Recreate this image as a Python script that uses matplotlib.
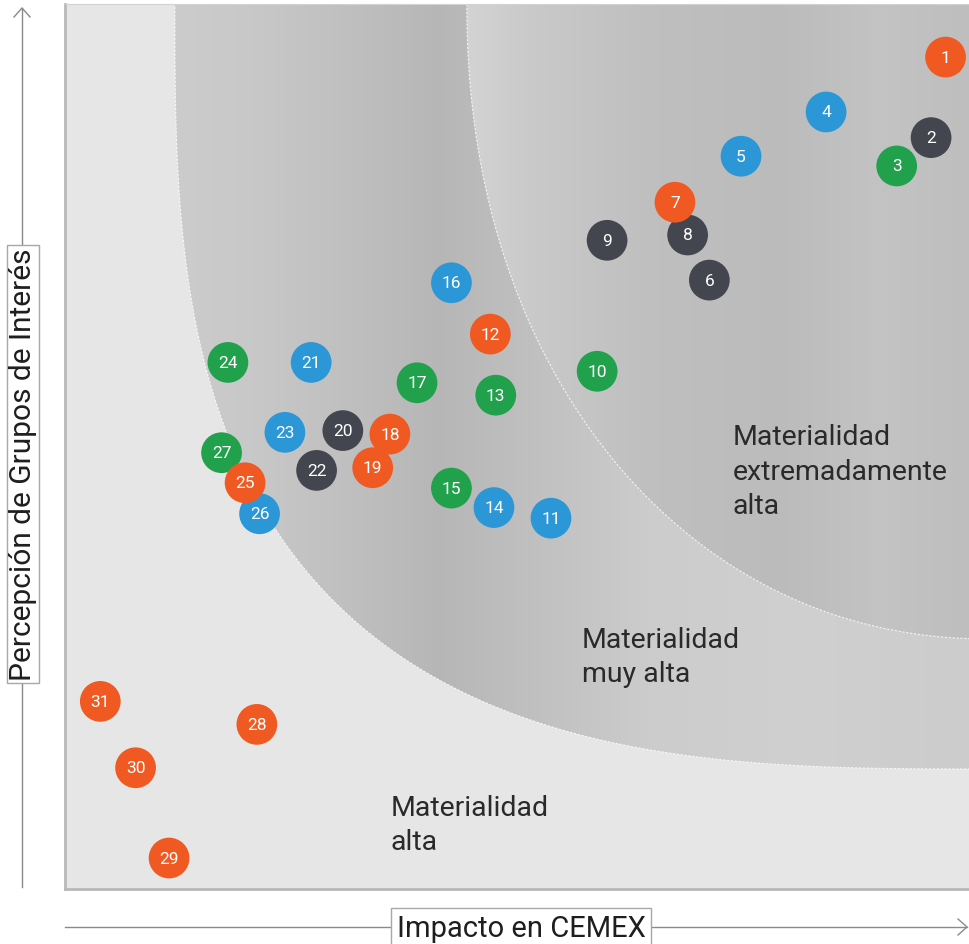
import numpy as np
import matplotlib
matplotlib.use('Agg')
import matplotlib.pyplot as plt
from matplotlib.path import Path
from matplotlib.patches import PathPatch

plt.rcParams['font.family'] = ['Roboto', 'DejaVu Sans']

# temas materiales: numero, impacto en CEMEX (x), percepcion de grupos de interes (y)
numeros = list(range(1, 32))
impacto = [97.3, 95.7, 91.9, 84.1, 74.7, 71.2, 67.4, 68.8, 59.9, 58.8,
           53.7, 47.0, 47.6, 47.4, 42.7, 42.7, 38.9, 35.9, 34.0, 30.7,
           27.2, 27.8, 24.3, 18.0, 19.9, 21.5, 17.3, 21.2, 11.5, 7.8, 3.9]
percepcion = [94.0, 84.9, 81.7, 87.8, 82.8, 68.8, 77.6, 73.9, 73.3, 58.5,
              41.9, 62.7, 55.8, 43.1, 45.3, 68.5, 57.2, 51.4, 47.6, 51.8,
              59.5, 47.3, 51.6, 59.5, 45.9, 42.4, 49.3, 18.6, 3.5, 13.7, 21.2]
grupo = ['naranja', 'gris', 'verde', 'azul', 'azul', 'gris', 'naranja', 'gris', 'gris', 'verde',
         'azul', 'naranja', 'verde', 'azul', 'verde', 'azul', 'verde', 'naranja', 'naranja', 'gris',
         'azul', 'gris', 'azul', 'verde', 'naranja', 'azul', 'verde', 'naranja', 'naranja', 'naranja', 'naranja']
# orden de dibujo (los que se solapan quedan encima)
orden = [1, 2, 3, 4, 5, 6, 8, 7, 9, 10, 11, 12, 13, 14, 15, 16, 17, 18, 19, 20,
         21, 22, 23, 24, 26, 27, 25, 28, 29, 30, 31]

colores = {'naranja': '#F05A22', 'azul': '#2C97D6', 'gris': '#43464E', 'verde': '#21A14C'}

zonas = ['Materialidad\nextremadamente\nalta', 'Materialidad\nmuy alta', 'Materialidad\nalta']
zonas_x = [73.8, 57.1, 36.0]
zonas_y = [47.2, 26.3, 7.3]


def cuadrante(cx, cy, a, b, n, m=400):
    t = np.linspace(0, np.pi / 2, m)
    xs = cx - a * np.cos(t) ** (2 / n)
    ys = cy - b * np.sin(t) ** (2 / n)
    verts = np.vstack([np.column_stack([xs, ys]), [[cx + 5, ys[-1]], [cx + 5, cy + 5], [xs[0], cy + 5]], [[xs[0], ys[0]]]])
    codes = [Path.MOVETO] + [Path.LINETO] * (len(verts) - 2) + [Path.CLOSEPOLY]
    return Path(verts, codes), xs, ys


fig = plt.figure(figsize=(9.7, 9.45), dpi=100)
ax = fig.add_axes([65 / 970, 55 / 945, 905 / 970, 885 / 945])
ax.set_xlim(0, 100)
ax.set_ylim(0, 100)
ax.set_facecolor('#E6E6E6')
ax.set_xticks([])
ax.set_yticks([])
for lado in ['left', 'bottom']:
    ax.spines[lado].set_color('#B8B8B8')
    ax.spines[lado].set_linewidth(2)
ax.spines['top'].set_color('#D2D2D2')
ax.spines['right'].set_visible(False)

# zonas sombreadas (degradado horizontal)
gx = np.linspace(0, 100, 905)
capas = [
    ((102.2, 100.56, 90.06, 87.0, 3.0),
     [12.15, 20.4, 31.5, 41.4, 53.6, 64.6, 81.2, 100],
     [0.80, 0.785, 0.75, 0.715, 0.76, 0.80, 0.815, 0.80]),
    ((102.2, 100.0, 57.8, 71.75, 2.1),
     [44.4, 51.4, 64.6, 79.0, 90.1, 100],
     [0.83, 0.79, 0.75, 0.735, 0.765, 0.745]),
]
for (cx, cy, a, b, n), paradas, tonos in capas:
    path, xs, ys = cuadrante(cx, cy, a, b, n)
    patch = PathPatch(path, facecolor='none', edgecolor='none')
    ax.add_patch(patch)
    g = np.interp(gx, paradas, tonos)
    img = np.tile(g, (10, 1))
    im = ax.imshow(np.dstack([img, img, img]), extent=[0, 100, 0, 100], aspect='auto',
                   origin='lower', zorder=1)
    im.set_clip_path(patch)
    ax.plot(xs, ys, color='white', lw=0.8, ls=(0, (2, 1.5)), alpha=0.8, zorder=2)

for i, num in enumerate(orden):
    k = num - 1
    ax.scatter(impacto[k], percepcion[k], s=860, color=colores[grupo[k]],
               edgecolors='none', zorder=10 + i)
    ax.text(impacto[k], percepcion[k], str(num), color='white', fontsize=12.5,
            ha='center', va='center', zorder=10.5 + i)

for txt, x, y in zip(zonas, zonas_x, zonas_y):
    ax.text(x, y, txt, fontsize=20.5, color='#2A2A2A', ha='left', va='center',
            linespacing=1.35, zorder=5)

# ejes con flecha
ov = fig.add_axes([0, 0, 1, 1])
ov.set_xlim(0, 970)
ov.set_ylim(945, 0)
ov.axis('off')
ov.patch.set_alpha(0)
ov.plot([22, 22], [888, 9], color='#8A8A8A', lw=1)
ov.plot([14, 22, 30], [18, 9, 18], color='#8A8A8A', lw=1)
ov.plot([65, 967], [928, 928], color='#8A8A8A', lw=1)
ov.plot([958, 967, 958], [920, 928, 936], color='#8A8A8A', lw=1)
ov.text(23, 465, 'Percepción de Grupos de Interés', rotation=90, ha='center', va='center',
        fontsize=21.5, color='#1E1E1E',
        bbox=dict(boxstyle='square,pad=0.08', fc='white', ec='#A8A8A8', lw=1))
ov.text(521, 929, 'Impacto en CEMEX', ha='center', va='center', fontsize=21, color='#1E1E1E',
        bbox=dict(boxstyle='square,pad=0.2', fc='white', ec='#A8A8A8', lw=1))

fig.savefig('out.png', dpi=100)
